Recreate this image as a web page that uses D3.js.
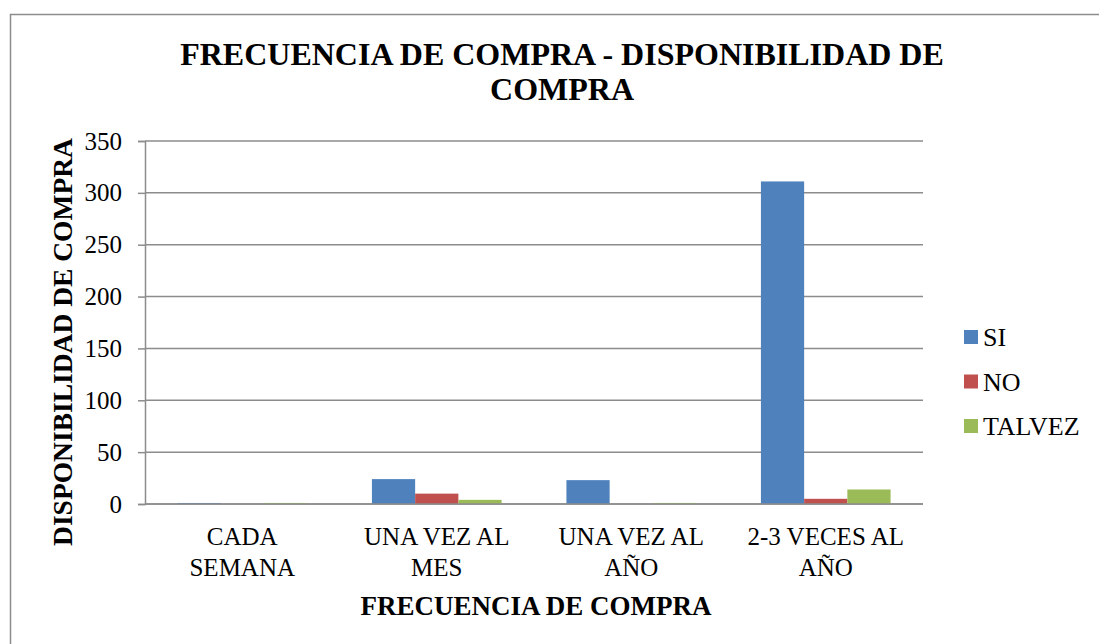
<!DOCTYPE html>
<html>
<head>
<meta charset="utf-8">
<script src="https://cdn.jsdelivr.net/npm/d3@7"></script>
<style>
  body { margin: 0; background: #fff; }
</style>
</head>
<body>
<div id="chart"></div>
<script>
const categories = [["CADA", "SEMANA"], ["UNA VEZ AL", "MES"], ["UNA VEZ AL", "AÑO"], ["2-3 VECES AL", "AÑO"]];
const seriesNames = ["SI", "NO", "TALVEZ"];
const siValues = [1, 24, 23, 311];
const noValues = [0, 10, 0, 5];
const talvezValues = [1, 4, 1, 14];
const yTicks = [0, 50, 100, 150, 200, 250, 300, 350];
const colors = ["#4F81BD", "#C0504D", "#9BBB59"];

const serif = "'Liberation Serif', serif";
const width = 1099, height = 644;
const plot = { left: 145, right: 923, top: 141, bottom: 504 };

const svg = d3.select('#chart').append('svg')
  .attr('width', width)
  .attr('height', height)
  .style('font-family', serif);

// outer chart border (runs off the picture on right and bottom)
svg.append('rect')
  .attr('x', 10.5).attr('y', 14.5)
  .attr('width', 1100).attr('height', 640)
  .attr('fill', 'none')
  .attr('stroke', '#8c8c8c')
  .attr('stroke-width', 1.5);

const catIdx = d3.range(categories.length);
const x0 = d3.scaleBand()
  .domain(catIdx)
  .range([plot.left, plot.right])
  .paddingInner(1.5 / 4.5)
  .paddingOuter(0.75 / 4.5);

const x1 = d3.scaleBand()
  .domain(seriesNames)
  .range([0, x0.bandwidth()]);

const y = d3.scaleLinear()
  .domain([0, 350])
  .range([plot.bottom, plot.top]);

// gridlines
svg.append('g').selectAll('line')
  .data(yTicks)
  .enter().append('line')
  .attr('x1', plot.left).attr('x2', plot.right)
  .attr('y1', d => y(d)).attr('y2', d => y(d))
  .attr('stroke', '#8c8c8c')
  .attr('stroke-width', 1.5);

// y axis
const yAxis = d3.axisLeft(y).tickValues(yTicks).tickSize(7).tickPadding(16);
const yAxisGroup = svg.append('g')
  .attr('transform', `translate(${plot.left}, 0)`)
  .call(yAxis)
  .attr('font-family', null)
  .attr('font-size', 25);
yAxisGroup.select('.domain').attr('stroke', '#8c8c8c').attr('stroke-width', 1.5);
yAxisGroup.selectAll('.tick line').attr('stroke', '#8c8c8c').attr('stroke-width', 1.5);
yAxisGroup.selectAll('.tick text').attr('fill', '#000');

// bars
const allSeries = [siValues, noValues, talvezValues];
seriesNames.forEach((name, s) => {
  svg.append('g').selectAll('rect')
    .data(allSeries[s])
    .enter().append('rect')
    .attr('x', (d, i) => x0(i) + x1(name))
    .attr('y', d => y(d))
    .attr('width', x1.bandwidth())
    .attr('height', d => y(0) - y(d))
    .attr('fill', colors[s]);
});

// x axis line
svg.append('line')
  .attr('x1', plot.left).attr('x2', plot.right)
  .attr('y1', y(0)).attr('y2', y(0))
  .attr('stroke', '#8c8c8c')
  .attr('stroke-width', 1.5);

// category labels
categories.forEach((lines, i) => {
  const cx = x0(i) + x0.bandwidth() / 2;
  const t = svg.append('text')
    .attr('text-anchor', 'middle')
    .attr('x', cx)
    .attr('y', 545)
    .attr('font-size', 25);
  lines.forEach((l, j) => {
    t.append('tspan')
      .attr('x', cx)
      .attr('dy', j === 0 ? 0 : 31)
      .text(l);
  });
});

// x axis title
svg.append('text')
  .attr('x', 536)
  .attr('y', 615)
  .attr('text-anchor', 'middle')
  .attr('font-size', 27)
  .attr('font-weight', 'bold')
  .text('FRECUENCIA DE COMPRA');

// y axis title
svg.append('text')
  .attr('transform', 'translate(72, 342) rotate(-90)')
  .attr('text-anchor', 'middle')
  .attr('font-size', 27.5)
  .attr('font-weight', 'bold')
  .text('DISPONIBILIDAD DE COMPRA');

// chart title
const title = svg.append('text')
  .attr('x', 562)
  .attr('y', 65)
  .attr('text-anchor', 'middle')
  .attr('font-size', 32)
  .attr('font-weight', 'bold');
title.append('tspan').attr('x', 562).text('FRECUENCIA DE COMPRA - DISPONIBILIDAD DE');
title.append('tspan').attr('x', 562).attr('dy', 35).text('COMPRA');

// legend
const legend = svg.append('g').attr('transform', 'translate(964, 346)');
seriesNames.forEach((name, i) => {
  const g = legend.append('g').attr('transform', `translate(0, ${i * 44.5})`);
  g.append('rect')
    .attr('x', 0).attr('y', -16)
    .attr('width', 14).attr('height', 14)
    .attr('fill', colors[i]);
  g.append('text')
    .attr('x', 19).attr('y', 0)
    .attr('font-size', 26)
    .text(name);
});
</script>
</body>
</html>
